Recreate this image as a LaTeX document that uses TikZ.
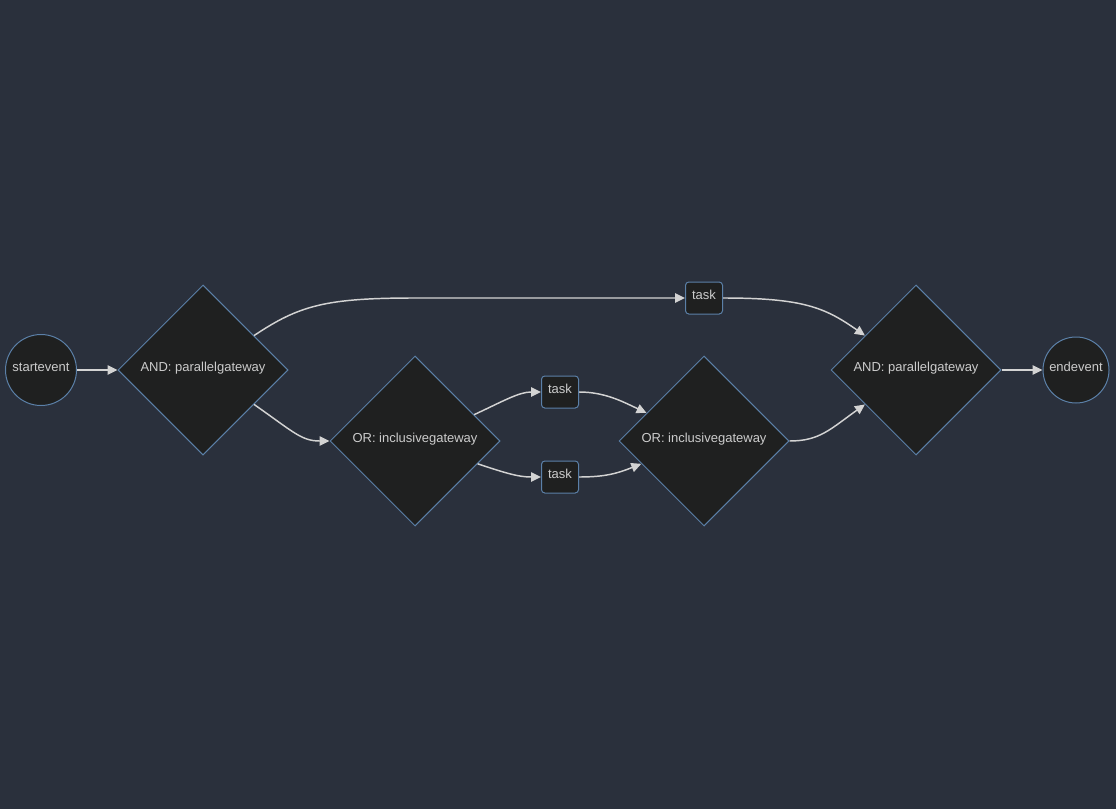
\documentclass[tikz,border=0pt]{standalone}
\usepackage{fontspec}
\setmainfont{Liberation Sans}
\usetikzlibrary{shapes.geometric,arrows.meta}
\definecolor{bgcol}{HTML}{2A303C}
\definecolor{nodefill}{HTML}{1F2020}
\definecolor{nodeline}{HTML}{5B80A8}
\definecolor{txtcol}{HTML}{CCCCCC}
\definecolor{flowcol}{HTML}{D3D3D3}
\tikzset{
  bpmn/.style={draw=nodeline,fill=nodefill,line width=0.75pt,text=txtcol,
    font=\fontsize{9.75}{11}\selectfont,inner sep=0pt,text height=7pt,text depth=5.5pt},
  event/.style={bpmn,circle},
  gateway/.style={bpmn,diamond,minimum width=127.5pt,minimum height=127.5pt},
  task/.style={bpmn,rectangle,rounded corners=2.5pt,minimum width=27.75pt,minimum height=24pt},
  flow/.style={draw=flowcol,line width=1.1pt,-{Triangle[length=7.5pt,width=7pt]}}
}

\begin{document}
\begin{tikzpicture}[x=0.75pt,y=-0.75pt]
  \fill[bgcol] (0,0) rectangle (1116,809);
  \useasboundingbox (0,0) rectangle (1116,809);

  %nodes of the process
  \node[event,minimum size=53.25pt] (start) at (41,370) {startevent};
  \node[gateway] (and1) at (203,370) {AND: parallelgateway};
  \node[gateway] (or1) at (415,441) {OR: inclusivegateway};
  \node[task] (tmid) at (560,392) {task};
  \node[task] (tlow) at (560,477) {task};
  \node[task] (ttop) at (704,298) {task};
  \node[gateway] (or2) at (704,441) {OR: inclusivegateway};
  \node[gateway] (and2) at (916,370) {AND: parallelgateway};
  \node[event,minimum size=49.5pt] (end) at (1076,370) {endevent};

  %sequence flows
  \draw[flow] (start) -- (and1.west);
  \draw[flow] (and1.34) .. controls +(45,-30) and +(-90,0) .. (ttop.west -| or1.north) -- (ttop.west);
  \draw[flow] (and1.-34) .. controls +(40,28) and +(-28,0) .. (or1.west);
  \draw[flow] (or1.24) .. controls +(30,-14) and +(-22,0) .. (tmid.west);
  \draw[flow] (or1.-20) .. controls +(30,10) and +(-22,0) .. (tlow.west);
  \draw[flow] (tmid.east) .. controls +(25,0) and +(-25,-12) .. (or2.154);
  \draw[flow] (tlow.east) .. controls +(25,0) and +(-25,10) .. (or2.200);
  \draw[flow] (ttop.east) .. controls +(80,0) and +(-40,-28) .. (and2.146);
  \draw[flow] (or2.east) .. controls +(30,0) and +(-35,25) .. (and2.214);
  \draw[flow] (and2.east) -- (end);
\end{tikzpicture}
\end{document}
